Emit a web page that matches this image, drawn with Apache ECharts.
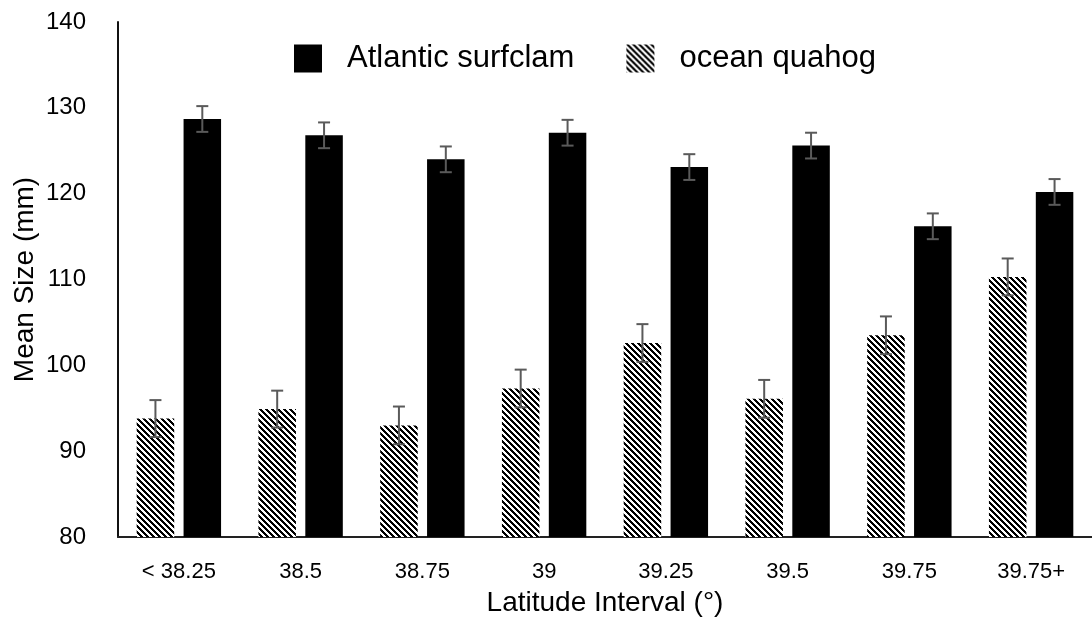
<!DOCTYPE html>
<html>
<head>
<meta charset="utf-8">
<script src="https://cdn.jsdelivr.net/npm/echarts@6/dist/echarts.min.js"></script>
<style>
html,body{margin:0;padding:0;background:#fff;}
#chart{width:1092px;height:635px;}
</style>
</head>
<body>
<div id="chart"></div>
<script>
const categories = ['< 38.25', '38.5', '38.75', '39', '39.25', '39.5', '39.75', '39.75+'];
const quahogMean = [93.8, 94.9, 93.0, 97.3, 102.6, 96.1, 103.5, 110.3];
const quahogErr = [2.15, 2.15, 2.2, 2.2, 2.2, 2.2, 2.2, 2.15];
const surfclamMean = [128.7, 126.8, 124.0, 127.1, 123.1, 125.6, 116.2, 120.2];
const surfclamErr = [1.5, 1.5, 1.5, 1.5, 1.5, 1.5, 1.5, 1.5];
const yTicks = { min: 80, max: 140, interval: 10 };

const FONT = '"Liberation Sans", Arial, sans-serif';
const BAR_W = 37.5;
const BAR_GAP = 0.25;
const OFFSET = BAR_W * (1 + BAR_GAP) / 2;

function makeHatch() {
  const n = 6;
  const c = document.createElement('canvas');
  c.width = n; c.height = n;
  const ctx = c.getContext('2d');
  const img = ctx.createImageData(n, n);
  for (let y = 0; y < n; y++) {
    for (let x = 0; x < n; x++) {
      const k = ((x - y) % n + n) % n;
      const black = k < 3;
      const i = (y * n + x) * 4;
      const v = black ? 0 : 255;
      img.data[i] = v; img.data[i + 1] = v; img.data[i + 2] = v; img.data[i + 3] = 255;
    }
  }
  ctx.putImageData(img, 0, 0);
  return c;
}
const hatch = { image: makeHatch(), repeat: 'repeat' };

function errRender(offset) {
  return function (params, api) {
    const x = api.value(0), v = api.value(1), e = api.value(2);
    const hi = api.coord([x, v + e]);
    const lo = api.coord([x, v - e]);
    const cx = hi[0] + offset;
    const style = { stroke: '#5a5a5a', lineWidth: 2 };
    const cap = 6;
    return {
      type: 'group',
      children: [
        { type: 'line', shape: { x1: cx, y1: hi[1], x2: cx, y2: lo[1] }, style: style },
        { type: 'line', shape: { x1: cx - cap, y1: hi[1], x2: cx + cap, y2: hi[1] }, style: style },
        { type: 'line', shape: { x1: cx - cap, y1: lo[1], x2: cx + cap, y2: lo[1] }, style: style }
      ]
    };
  };
}

const chart = echarts.init(document.getElementById('chart'), null, { renderer: 'canvas' });
chart.setOption({
  animation: false,
  backgroundColor: '#fff',
  textStyle: { fontFamily: FONT },
  grid: { left: 118, top: 22, width: 978, height: 515, containLabel: false },
  legend: {
    left: 289, top: 38,
    icon: 'rect',
    itemWidth: 28, itemHeight: 28, itemGap: 52,
    data: ['Atlantic surfclam', 'ocean quahog'],
    textStyle: { fontFamily: FONT, fontSize: 31, color: '#000', padding: [0, 0, 0, 20] }
  },
  xAxis: {
    type: 'category',
    data: categories,
    axisLine: { lineStyle: { color: '#222', width: 2 } },
    axisTick: { show: false },
    axisLabel: { fontFamily: FONT, fontSize: 22, color: '#000', margin: 24 },
    name: 'Latitude Interval (°)',
    nameLocation: 'middle',
    nameGap: 52,
    nameMoveOverlap: false,
    nameTextStyle: { fontFamily: FONT, fontSize: 28, color: '#000' }
  },
  yAxis: {
    type: 'value',
    min: yTicks.min, max: yTicks.max, interval: yTicks.interval,
    axisLine: { show: true, lineStyle: { color: '#111', width: 2 } },
    axisTick: { show: false },
    splitLine: { show: false },
    axisLabel: { fontFamily: FONT, fontSize: 24, color: '#000', margin: 32 },
    name: 'Mean Size (mm)',
    nameLocation: 'middle',
    nameGap: 79,
    nameMoveOverlap: false,
    nameRotate: 90,
    nameTextStyle: { fontFamily: FONT, fontSize: 28, color: '#000' }
  },
  series: [
    {
      name: 'ocean quahog', type: 'bar', data: quahogMean,
      barWidth: BAR_W, barGap: (BAR_GAP * 100) + '%',
      itemStyle: { color: hatch }
    },
    {
      name: 'Atlantic surfclam', type: 'bar', data: surfclamMean,
      barWidth: BAR_W, barGap: (BAR_GAP * 100) + '%',
      itemStyle: { color: '#000' }
    },
    {
      type: 'custom', name: 'quahogErr', z: 5,
      renderItem: errRender(-OFFSET),
      data: quahogMean.map((v, i) => [i, v, quahogErr[i]]),
      encode: { x: 0, y: 1 }, silent: true
    },
    {
      type: 'custom', name: 'surfclamErr', z: 5,
      renderItem: errRender(OFFSET),
      data: surfclamMean.map((v, i) => [i, v, surfclamErr[i]]),
      encode: { x: 0, y: 1 }, silent: true
    }
  ]
});
</script>
</body>
</html>
